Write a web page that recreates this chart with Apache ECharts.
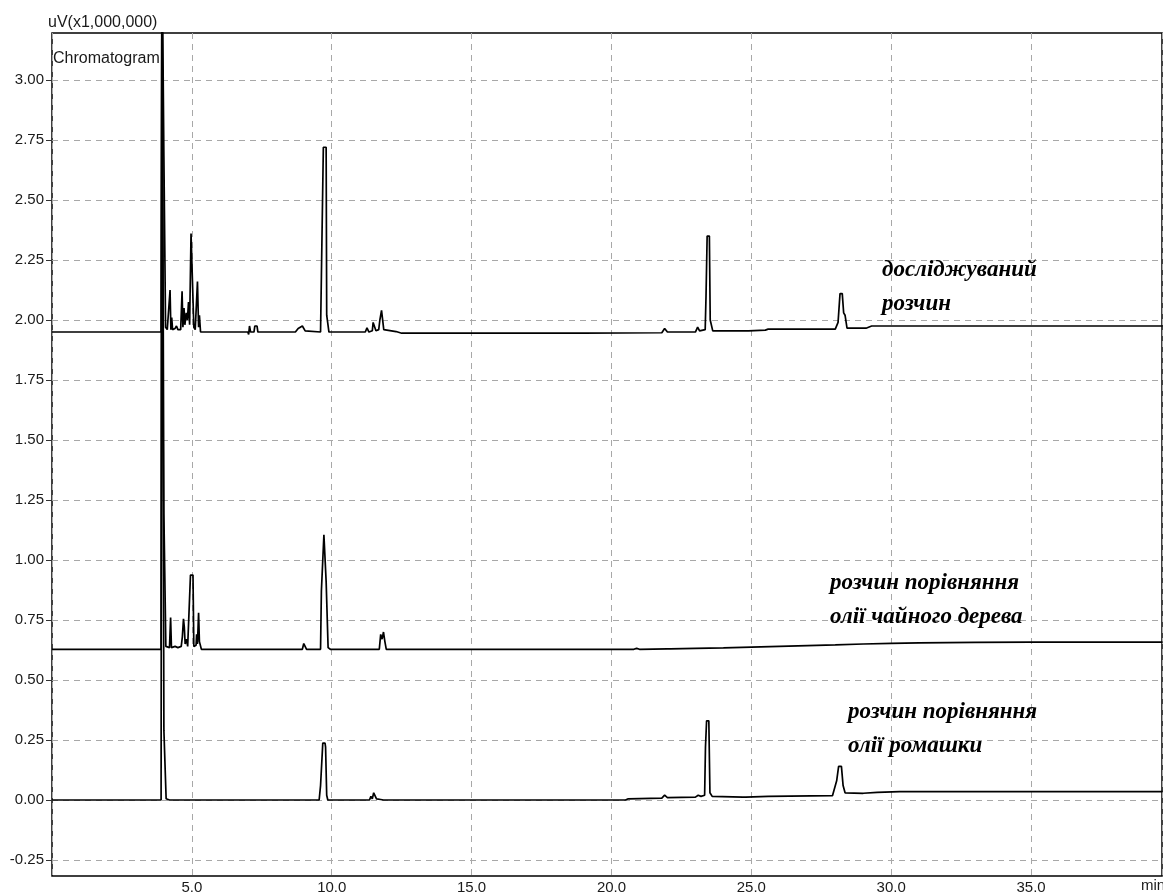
<!DOCTYPE html>
<html>
<head>
<meta charset="utf-8">
<script src="https://cdn.jsdelivr.net/npm/echarts@6/dist/echarts.min.js"></script>
<style>
html,body{margin:0;padding:0;background:#fff;}
#chart{width:1163px;height:896px;}
</style>
</head>
<body>
<div id="chart"></div>
<script>
// ---- data (time in min, signal in uV x 1,000,000) ----
const xTicks = [5, 10, 15, 20, 25, 30, 35];
const yTicks = [-0.25, 0, 0.25, 0.5, 0.75, 1.0, 1.25, 1.5, 1.75, 2.0, 2.25, 2.5, 2.75, 3.0];
const yUnit = 'uV(x1,000,000)';
const xUnit = 'min';
const panelTitle = 'Chromatogram';

// trace 1: досліджуваний розчин
const traceSample = [
  [0,1.95],[3.9,1.95],[3.93,3.6],[3.99,3.6],[4.0,2.68],[4.04,2.68],[4.06,1.97],[4.12,1.96],[4.18,1.96],
  [4.22,2.125],[4.25,1.96],[4.28,2.01],[4.31,1.96],[4.4,1.965],[4.45,1.975],[4.5,1.96],[4.6,1.96],
  [4.65,2.12],[4.68,1.97],[4.72,2.05],[4.75,1.98],[4.8,2.03],[4.84,2.0],[4.88,2.075],[4.92,1.98],
  [4.97,2.36],[5.03,2.36],[5.07,1.97],[5.12,1.96],[5.2,2.16],[5.24,1.97],[5.27,2.02],[5.31,1.95],
  [7.0,1.95],[7.03,1.94],[7.06,1.975],[7.1,1.95],[7.22,1.95],[7.25,1.975],[7.33,1.975],[7.36,1.95],
  [8.7,1.95],[8.8,1.965],[8.85,1.96],[8.95,1.975],[9.05,1.955],[9.12,1.95],
  [9.6,1.95],[9.63,2.18],[9.68,2.18],[9.7,2.72],[9.8,2.72],[9.82,2.02],[9.86,2.02],[9.9,1.95],
  [11.2,1.95],[11.26,1.967],[11.33,1.95],[11.45,1.955],[11.48,1.99],[11.55,1.99],[11.58,1.955],
  [11.68,1.96],[11.72,2.0],[11.78,2.04],[11.82,2.04],[11.86,1.96],[11.92,1.952],[12.3,1.952],
  [12.5,1.945],[13.4,1.945],[13.45,1.952],[13.5,1.945],[14.4,1.945],[14.45,1.95],[14.5,1.945],
  [16.0,1.945],[16.05,1.95],[16.1,1.945],[19.0,1.945],[21.8,1.947],[21.9,1.965],[22.0,1.95],
  [23.0,1.95],[23.08,1.97],[23.15,1.955],[23.35,1.96],[23.38,2.1],[23.42,2.35],[23.5,2.35],
  [23.53,2.0],[23.58,2.0],[23.62,1.955],[24.8,1.955],[24.85,1.962],[24.9,1.955],[25.5,1.958],
  [25.6,1.962],[28.0,1.962],[28.1,1.99],[28.17,2.11],[28.25,2.11],[28.3,2.03],[28.35,2.02],
  [28.42,1.966],[29.1,1.966],[29.3,1.975],[39.7,1.975]
];

// trace 2: розчин порівняння олії чайного дерева
const traceTeaTree = [
  [0,0.628],[3.9,0.628],[3.93,3.6],[3.99,3.6],[4.0,1.19],[4.04,1.19],[4.07,0.64],[4.2,0.635],
  [4.24,0.76],[4.27,0.635],[4.4,0.64],[4.5,0.635],[4.62,0.64],[4.66,0.68],[4.7,0.755],[4.73,0.72],
  [4.76,0.65],[4.81,0.67],[4.85,0.64],[4.92,0.64],[4.95,0.937],[5.04,0.937],[5.07,0.64],[5.15,0.645],
  [5.17,0.69],[5.2,0.65],[5.24,0.78],[5.27,0.66],[5.31,0.66],[5.34,0.628],[8.95,0.628],[9.0,0.652],
  [9.06,0.652],[9.1,0.628],[9.6,0.628],[9.63,0.87],[9.7,0.87],[9.72,1.105],[9.78,1.105],[9.8,0.91],
  [9.84,0.91],[9.87,0.635],[9.95,0.628],[11.7,0.628],[11.75,0.69],[11.8,0.67],[11.85,0.70],
  [11.9,0.66],[11.95,0.628],[20.8,0.628],[20.9,0.632],[21.0,0.628],[22.0,0.63],[22.05,0.634],
  [22.1,0.63],[23.0,0.632],[24.0,0.634],[25.0,0.637],[26.0,0.64],[27.0,0.643],[28.0,0.646],
  [29.0,0.65],[30.0,0.653],[31.0,0.655],[33.0,0.657],[35.0,0.658],[39.7,0.658]
];

// trace 3: розчин порівняння олії ромашки
const traceChamomile = [
  [0,0],[3.9,0],[3.93,3.6],[3.99,3.6],[4.0,0.29],[4.05,0.29],[4.08,0.005],[4.2,0],[4.85,0],[4.9,0.008],
  [4.95,0],[9.55,0],[9.6,0.06],[9.66,0.06],[9.68,0.237],[9.76,0.237],[9.78,0.22],[9.82,0.02],[9.86,0],
  [11.35,0],[11.4,0.015],[11.45,0.005],[11.5,0.03],[11.56,0.03],[11.6,0.005],[11.75,0.002],[11.8,0.01],
  [11.85,0],[20.5,0],[20.6,0.005],[21.8,0.008],[21.9,0.02],[22.0,0.01],[23.0,0.012],[23.1,0.02],
  [23.2,0.015],[23.33,0.02],[23.36,0.22],[23.4,0.33],[23.48,0.33],[23.52,0.03],[23.6,0.015],
  [24.7,0.012],[24.75,0.02],[24.8,0.012],[25.6,0.015],[27.9,0.018],[28.05,0.08],[28.12,0.14],
  [28.22,0.14],[28.28,0.06],[28.35,0.03],[29.0,0.028],[29.5,0.032],[30.3,0.035],[39.7,0.035]
];

const labelSample = ['досліджуваний', 'розчин'];
const labelTeaTree = ['розчин порівняння', 'олії чайного дерева'];
const labelChamomile = ['розчин порівняння', 'олії ромашки'];

// ---- chart ----
const chart = echarts.init(document.getElementById('chart'), null, {renderer: 'canvas'});
const axisFont = {fontFamily: 'Liberation Sans, Arial, sans-serif', fontSize: 15, color: '#1a1a1a'};
const noteFont = 'italic bold 23px "Liberation Serif", "Times New Roman", serif';
const grid = {left: 52, top: 33, right: 1, bottom: 20};

function mkSeries(name, data) {
  return {
    name: name, type: 'line', data: data, showSymbol: false, symbol: 'none',
    lineStyle: {color: '#000', width: 1.7}, clip: true, animation: false, z: 5
  };
}

function noteText(lines, left, top) {
  return {
    type: 'text', left: left, top: top, z: 10,
    style: {text: lines.join('\n'), font: noteFont, fill: '#000', lineHeight: 34}
  };
}

chart.setOption({
  animation: false,
  backgroundColor: '#fff',
  grid: Object.assign({show: true, borderColor: '#000', borderWidth: 1.5, backgroundColor: '#fff'}, grid),
  xAxis: {
    type: 'value', min: 0, max: 39.68, interval: 5,
    axisLine: {show: false}, axisTick: {show: false},
    axisLabel: Object.assign({
      margin: 4,
      customValues: xTicks,
      formatter: v => v.toFixed(1)
    }, axisFont),
    splitLine: {show: true, lineStyle: {color: '#a8a8a8', type: [6, 5], width: 1}}
  },
  yAxis: {
    type: 'value', min: -0.3167, max: 3.196,
    axisLine: {show: false},
    axisTick: {show: true, length: 6, customValues: yTicks, lineStyle: {color: '#333'}},
    axisLabel: Object.assign({margin: 8, customValues: yTicks, formatter: v => v.toFixed(2)}, axisFont),
    splitLine: {show: true, lineStyle: {color: '#a8a8a8', type: [6, 5], width: 1}}
  },
  series: [
    mkSeries('досліджуваний розчин', traceSample),
    mkSeries('олія чайного дерева', traceTeaTree),
    mkSeries('олія ромашки', traceChamomile)
  ],
  graphic: [
    {type: 'text', left: 48, top: 15, style: {text: yUnit, font: '16px "Liberation Sans", Arial, sans-serif', fill: '#1a1a1a'}},
    {type: 'text', left: 53, top: 51, z: 1, style: {text: panelTitle, font: '16px "Liberation Sans", Arial, sans-serif', fill: '#1a1a1a'}},
    {type: 'text', left: 1141, top: 878, style: {text: xUnit, font: '15px "Liberation Sans", Arial, sans-serif', fill: '#1a1a1a'}},
    noteText(labelSample, 882, 253),
    noteText(labelTeaTree, 830, 566),
    noteText(labelChamomile, 848, 695)
  ]
});
</script>
</body>
</html>
